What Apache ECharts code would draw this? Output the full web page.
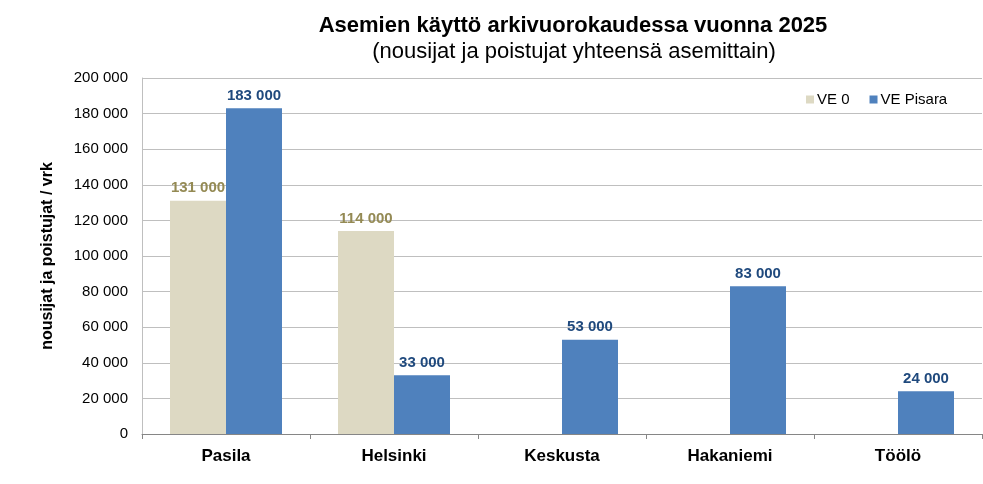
<!DOCTYPE html>
<html>
<head>
<meta charset="utf-8">
<script src="https://cdn.jsdelivr.net/npm/echarts@6/dist/echarts.min.js"></script>
<style>
html,body{margin:0;padding:0;background:#fff;}
#chart{width:983px;height:484px;}
</style>
</head>
<body>
<div id="chart"></div>
<script>
const categories = ['Pasila', 'Helsinki', 'Keskusta', 'Hakaniemi', 'Töölö'];
const ve0 = [131000, 114000, null, null, null];
const vePisara = [183000, 33000, 53000, 83000, 24000];
const seriesNames = ['VE 0', 'VE Pisara'];
const titleText = 'Asemien käyttö arkivuorokaudessa vuonna 2025';
const subtitleText = '(nousijat ja poistujat yhteensä asemittain)';
const yAxisName = 'nousijat ja poistujat / vrk';

function fmt(v) {
  return String(v).replace(/\B(?=(\d{3})+(?!\d))/g, ' ');
}

const font = 'Liberation Sans, Arial, sans-serif';
const chart = echarts.init(document.getElementById('chart'));
chart.setOption({
  animation: false,
  textStyle: { fontFamily: font },
  title: [
    { text: titleText, left: 568, top: 10, textAlign: 'center',
      textStyle: { fontFamily: font, fontSize: 22, fontWeight: 'bold', color: '#000' } },
    { text: subtitleText, left: 569, top: 36, textAlign: 'center',
      textStyle: { fontFamily: font, fontSize: 22, fontWeight: 'normal', color: '#000' } }
  ],
  legend: {
    left: 801, top: 87,
    itemWidth: 8, itemHeight: 8, itemGap: 20,
    icon: 'rect',
    textStyle: { fontFamily: font, fontSize: 15, color: '#000', padding: [0, 0, 0, -2] },
    data: seriesNames
  },
  grid: { left: 142, right: 1, top: 78, bottom: 50 },
  xAxis: {
    type: 'category',
    data: categories,
    axisLine: { lineStyle: { color: '#868686', width: 1 } },
    axisTick: { show: true, length: 5, lineStyle: { color: '#868686' } },
    axisLabel: { margin: 14, fontFamily: font, fontSize: 17, fontWeight: 'bold', color: '#000' }
  },
  yAxis: {
    type: 'value',
    min: 0, max: 200000, interval: 20000,
    name: yAxisName,
    nameLocation: 'middle',
    nameGap: 86,
    nameTextStyle: { fontFamily: font, fontSize: 16, fontWeight: 'bold', color: '#000' },
    axisLine: { show: true, lineStyle: { color: '#BFBFBF' } },
    axisTick: { show: false },
    splitLine: { lineStyle: { color: '#BFBFBF' } },
    axisLabel: { margin: 14, fontFamily: font, fontSize: 15, color: '#000', formatter: fmt }
  },
  series: [
    { name: seriesNames[0], type: 'bar', data: ve0, barWidth: 56, barGap: '0%',
      itemStyle: { color: '#DDD9C3' },
      label: { show: true, position: 'top', distance: 5, formatter: p => fmt(p.value),
        fontFamily: font, fontSize: 15, fontWeight: 'bold', color: '#948A54' } },
    { name: seriesNames[1], type: 'bar', data: vePisara, barWidth: 56, barGap: '0%',
      itemStyle: { color: '#4F81BD' },
      label: { show: true, position: 'top', distance: 5, formatter: p => fmt(p.value),
        fontFamily: font, fontSize: 15, fontWeight: 'bold', color: '#1F497D' } }
  ]
});
</script>
</body>
</html>
